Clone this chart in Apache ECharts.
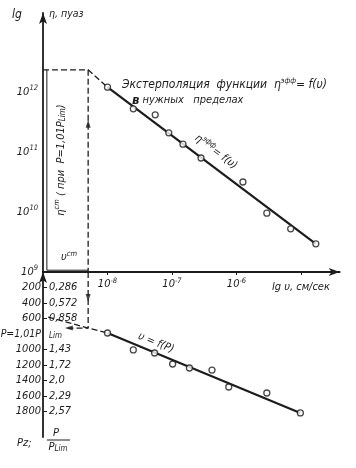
<!DOCTYPE html>
<html><head><meta charset="utf-8">
<script src="https://cdn.jsdelivr.net/npm/echarts@6/dist/echarts.min.js"></script>
<style>html,body{margin:0;padding:0;background:#fff}#c{width:356px;height:468px}</style>
</head><body><div id="c"></div>
<script>
// ---- data ----
// upper panel: lg v (cm/s) vs lg eta (poise)
const upperLgV   = [-8.0, -7.6, -7.26, -7.05, -6.83, -6.55, -5.9, -5.53, -5.16, -4.77];
const upperLgEta = [12.08, 11.72, 11.62, 11.32, 11.13, 10.90, 10.50, 9.98, 9.72, 9.47];
const upperFitV   = [-8.0, -4.77];
const upperFitEta = [12.08, 9.47];
// lower panel: lg v vs pressure P
const lowerLgV = [-8.0, -7.6, -7.27, -6.99, -6.73, -6.38, -6.12, -5.53, -5.01];
const lowerP   = [787, 1006, 1045, 1187, 1239, 1265, 1484, 1561, 1819];
const lowerFitV = [-8.0, -5.01];
const lowerFitP = [787, 1819];
// reference construction values
const vCm = -8.3;      // lg v^cm
const etaCm = 12.37;   // lg eta^cm
const pCm = 723;       // P = 1,01 P_Lim
const lowerDashStart = [-8.92, 581];
// tick labels
const xTickValues = [-8, -7, -6, -5];
const xLabelValues = [-8, -7, -6];
const yLabelValues = [9, 10, 11, 12];
const pTicks = [200, 400, 600, 800, 1000, 1200, 1400, 1600, 1800];
const pRatioLabels = ['0,286', '0,572', '0,858', 'Lim', '1,43', '1,72', '2,0', '2,29', '2,57'];

const FONT = "'Liberation Sans Narrow','DejaVu Sans Condensed','Liberation Sans',sans-serif";
const INK = '#1c1c1c';
const xMin = -9, xMax = -4.4;
const pairs = (a, b) => a.map((v, i) => [v, b[i]]);
const supRich = {
  b: {fontSize: 11, fontStyle: 'italic', fontFamily: FONT, color: INK},
  m: {fontSize: 12, fontStyle: 'italic', fontFamily: FONT, color: INK},
  n: {fontSize: 10.5, fontStyle: 'italic', fontFamily: FONT, color: INK},
  s: {fontSize: 7.5, fontStyle: 'italic', fontFamily: FONT, color: INK, padding: [0, 0, 7, 0]},
  sub: {fontSize: 8, fontStyle: 'italic', fontFamily: FONT, color: INK, padding: [4, 0, 0, 0]},
  big: {fontSize: 13, fontWeight: 'bold', fontStyle: 'italic', fontFamily: FONT, color: INK}
};
const axisLineStyle = {color: INK, width: 1.8};
const dashed = {color: INK, width: 1.3, type: [6, 3]};

const chart = echarts.init(document.getElementById('c'));
const txt = (x, y, text, extra) => Object.assign({
  type: 'text', x, y,
  style: Object.assign({text, fontSize: 11, fontStyle: 'italic', fontFamily: FONT, fill: INK, rich: supRich}, extra && extra.style || {})
}, extra && extra.el || {});

chart.setOption({
  animation: false,
  backgroundColor: '#fff',
  grid: [
    {left: 43, top: 13, width: 296.7, height: 259, outerBoundsMode: 'none'},
    {left: 43, top: 272, width: 296.7, height: 165, outerBoundsMode: 'none'}
  ],
  xAxis: [
    {gridIndex: 0, type: 'value', min: xMin, max: xMax,
     axisLine: {show: true, lineStyle: axisLineStyle, symbol: ['none', 'arrow'], symbolSize: [6, 11], onZero: false},
     axisTick: {show: true, length: 3, customValues: xTickValues, lineStyle: {color: INK}},
     splitLine: {show: false},
     axisLabel: {customValues: xLabelValues, margin: 5, formatter: v => '{b|10}{s|' + v + '}', rich: supRich}},
    {gridIndex: 1, type: 'value', min: xMin, max: xMax, show: false}
  ],
  yAxis: [
    {gridIndex: 0, type: 'value', min: 9, max: 9 + 259 / 60, position: 'left',
     axisLine: {show: true, lineStyle: axisLineStyle, symbol: ['none', 'arrow'], symbolSize: [6, 11], onZero: false},
     axisTick: {show: false}, splitLine: {show: false},
     axisLabel: {customValues: yLabelValues, margin: 5, formatter: v => '{b|10}{s|' + v + '}', rich: supRich}},
    {gridIndex: 1, type: 'value', min: 0, max: 165 / 0.0775, inverse: true, position: 'left',
     axisLine: {show: true, lineStyle: axisLineStyle, symbol: ['none', 'arrow'], symbolSize: [6, 11], onZero: false},
     axisTick: {show: false}, splitLine: {show: false},
     axisLabel: {customValues: pTicks, margin: 2, formatter: v => v === 800 ? '{n|P=1,01P}' : '{b|' + v + '}', rich: supRich}},
    {gridIndex: 1, type: 'value', min: 0, max: 165 / 0.0775, inverse: true, position: 'left',
     axisLine: {show: false},
     axisTick: {show: true, inside: true, length: 4, customValues: pTicks.filter(v => v !== 800), lineStyle: {color: INK}},
     splitLine: {show: false},
     axisLabel: {inside: true, customValues: pTicks, margin: 6,
       formatter: v => { const s = pRatioLabels[pTicks.indexOf(v)]; return v === 800 ? '{sub|' + s + '}' : '{b|' + s + '}'; },
       rich: supRich}}
  ],
  series: [
    {type: 'line', xAxisIndex: 0, yAxisIndex: 0, data: pairs(upperFitV, upperFitEta), symbol: 'none', lineStyle: {color: INK, width: 2.2}, z: 2},
    {type: 'line', xAxisIndex: 0, yAxisIndex: 0, data: [[xMin, etaCm], [vCm, etaCm], [upperFitV[0], upperFitEta[0]]], symbol: 'none', lineStyle: dashed},
    {type: 'line', xAxisIndex: 0, yAxisIndex: 0, data: [[vCm, etaCm], [vCm, 9]], symbol: 'none', lineStyle: dashed},
    {type: 'line', xAxisIndex: 0, yAxisIndex: 0, data: [[-8.94, etaCm], [-8.94, 9.03], [vCm, 9.03]], symbol: 'none', lineStyle: {color: INK, width: 1}},
    {type: 'scatter', xAxisIndex: 0, yAxisIndex: 0, data: [[vCm, 11.47]], symbol: 'triangle', symbolSize: [5, 8], itemStyle: {color: INK}},
    {type: 'scatter', xAxisIndex: 0, yAxisIndex: 0, data: pairs(upperLgV, upperLgEta), symbol: 'circle', symbolSize: 6,
     itemStyle: {color: '#fff', borderColor: INK, borderWidth: 1.3}, z: 5},
    {type: 'line', xAxisIndex: 1, yAxisIndex: 1, data: pairs(lowerFitV, lowerFitP), symbol: 'none', lineStyle: {color: INK, width: 2.2}, z: 2},
    {type: 'line', xAxisIndex: 1, yAxisIndex: 1, data: [lowerDashStart, [vCm, pCm], [lowerFitV[0], lowerFitP[0]]], symbol: 'none', lineStyle: dashed},
    {type: 'line', xAxisIndex: 1, yAxisIndex: 1, data: [[vCm, 0], [vCm, pCm]], symbol: 'none', lineStyle: dashed},
    {type: 'line', xAxisIndex: 1, yAxisIndex: 1, data: [[-8.62, pCm], [vCm, pCm]], symbol: 'none', lineStyle: dashed},
    {type: 'scatter', xAxisIndex: 1, yAxisIndex: 1, data: [[vCm, 335]], symbol: 'triangle', symbolRotate: 180, symbolSize: [5, 8], itemStyle: {color: INK}},
    {type: 'scatter', xAxisIndex: 1, yAxisIndex: 1, data: [[-8.6, pCm]], symbol: 'triangle', symbolRotate: 90, symbolSize: [5, 8], itemStyle: {color: INK}},
    {type: 'scatter', xAxisIndex: 1, yAxisIndex: 1, data: pairs(lowerLgV, lowerP), symbol: 'circle', symbolSize: 6,
     itemStyle: {color: '#fff', borderColor: INK, borderWidth: 1.3}, z: 5}
  ],
  graphic: [
    txt(12, 9, 'lg', {style: {fontSize: 12}}),
    txt(49, 9, 'η, пуаз', {style: {fontSize: 10.5}}),
    txt(122, 77, '{m|Экстерполяция  функции  η}{s|эфф}{m|= f(υ)}'),
    txt(132, 94, '{big|в} {b|нужных   пределах}'),
    txt(216, 152, '{b|η}{s|эфф}{b|= f(υ)}', {style: {textAlign: 'center', textVerticalAlign: 'middle'}, el: {rotation: -0.645}}),
    txt(156, 343, '{b|υ = f(P)}', {style: {textAlign: 'center', textVerticalAlign: 'middle'}, el: {rotation: -0.39}}),
    txt(61, 160, '{b|η}{s|cm}{b| ( при  P=1,01P}{sub|Lim}{b|)}', {style: {textAlign: 'center', textVerticalAlign: 'middle'}, el: {rotation: Math.PI / 2}}),
    txt(61, 250, '{b|υ}{s|cm}'),
    txt(272, 282, 'lg υ, см/сек'),
    txt(17, 438, 'Pz;'),
    txt(56, 428, 'P', {style: {textAlign: 'center'}}),
    {type: 'line', shape: {x1: 47, y1: 440, x2: 70, y2: 440}, style: {stroke: INK, lineWidth: 1}},
    txt(58, 441, '{b|P}{sub|Lim}', {style: {textAlign: 'center'}})
  ]
});
</script></body></html>
